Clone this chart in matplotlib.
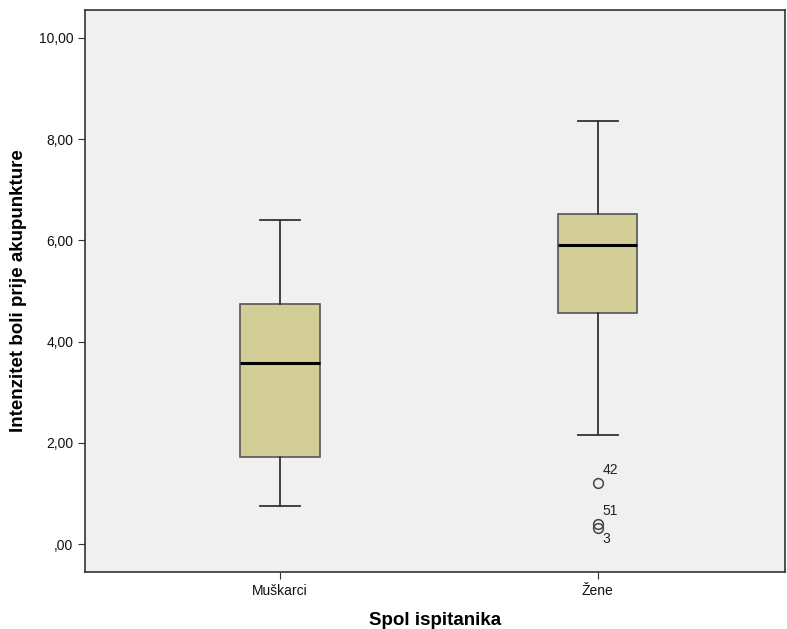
import matplotlib
matplotlib.use('Agg')
import matplotlib.pyplot as plt

plt.rcParams['font.family'] = ['Liberation Sans', 'DejaVu Sans']

# podaci (procjena iz slike)
kategorije = ['Muškarci', 'Žene']
donji_brk = [0.75, 2.15]
q1 = [1.72, 4.57]
medijan = [3.58, 5.91]
q3 = [4.74, 6.52]
gornji_brk = [6.40, 8.36]
outlieri = [[], [1.21, 0.40, 0.32]]
outlier_oznake = [[], ['42', '51', '3']]

stats = []
for i in range(len(kategorije)):
    stats.append({
        'label': kategorije[i],
        'whislo': donji_brk[i],
        'q1': q1[i],
        'med': medijan[i],
        'q3': q3[i],
        'whishi': gornji_brk[i],
        'fliers': outlieri[i],
    })

fig = plt.figure(figsize=(7.87, 6.29), dpi=100)
ax = fig.add_axes([0.108, 0.0906, 0.889, 0.8934])
ax.set_facecolor('#F0F0F0')

pozicije = [1, 2]
ax.bxp(stats, positions=pozicije, widths=0.25, patch_artist=True,
       boxprops=dict(facecolor='#D3CE97', edgecolor='#555555', linewidth=1.2),
       medianprops=dict(color='black', linewidth=2.2),
       whiskerprops=dict(color='#333333', linewidth=1.3),
       capprops=dict(color='#333333', linewidth=1.3),
       capwidths=0.126,
       flierprops=dict(marker='o', markerfacecolor='none', markeredgecolor='#444444',
                       markersize=7, markeredgewidth=1.1))

# oznake outliera
pomaci = {'42': 0.25, '51': 0.25, '3': -0.22}
for i, pos in enumerate(pozicije):
    for v, oznaka in zip(outlieri[i], outlier_oznake[i]):
        ax.text(pos + 0.015, v + pomaci[oznaka], oznaka, fontsize=10,
                color='#222222', va='center', ha='left')

ax.set_xlim(0.387, 2.588)
ax.set_ylim(-0.55, 10.55)
ax.set_yticks([0, 2, 4, 6, 8, 10])
ax.set_yticklabels([',00', '2,00', '4,00', '6,00', '8,00', '10,00'])
ax.set_xticks(pozicije)
ax.set_xticklabels(kategorije)
ax.tick_params(axis='both', labelsize=10, color='#333333', length=5, labelcolor='#111111')

for s in ax.spines.values():
    s.set_color('#333333')
    s.set_linewidth(1.2)

ax.set_xlabel('Spol ispitanika', fontsize=13.5, fontweight='bold', labelpad=10)
ax.set_ylabel('Intenzitet boli prije akupunkture', fontsize=13.5, fontweight='bold', labelpad=8)

fig.savefig('out.png', dpi=100)
